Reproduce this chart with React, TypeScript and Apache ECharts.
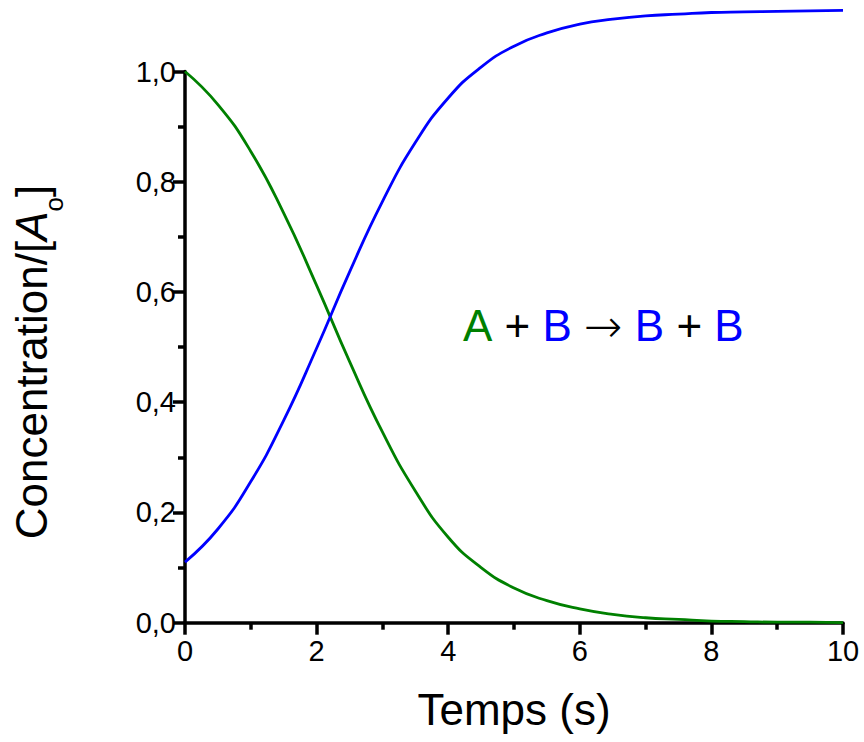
import React, { useEffect, useRef } from "react";
import * as echarts from "echarts";

// Time (s)
const time = [0, 0.5, 1, 1.5, 2, 2.5, 3, 3.5, 4, 4.5, 5, 5.5, 6, 6.5, 7, 7.5, 8, 8.5, 9, 9.5, 10];
// [A]/[A0] (green)
const concA = [1.0, 0.94, 0.855, 0.743, 0.612, 0.474, 0.346, 0.239, 0.155, 0.1, 0.063, 0.04, 0.025, 0.015, 0.009, 0.006, 0.003, 0.002, 0.001, 0.001, 0.0];
// [B]/[A0] (blue)
const concB = [0.11, 0.17, 0.256, 0.367, 0.498, 0.636, 0.764, 0.871, 0.952, 1.008, 1.046, 1.07, 1.086, 1.095, 1.101, 1.104, 1.107, 1.108, 1.109, 1.11, 1.111];

const xTicks = { min: 0, max: 10, interval: 2 };
const yTicks = { min: 0, max: 1.0, interval: 0.2 };

const FONT = '"Liberation Sans", Arial, Helvetica, sans-serif';
const GREEN = "#008000";
const BLUE = "#0000ff";

export default function App() {
  const ref = useRef<HTMLDivElement>(null);

  useEffect(() => {
    if (!ref.current) return;
    const chart = echarts.init(ref.current, undefined, { renderer: "svg" });
    const axisCommon = {
      axisLine: { show: true, onZero: false, lineStyle: { color: "#000", width: 3.5 } },
      axisTick: { show: true, inside: false, length: 12, lineStyle: { color: "#000", width: 3.5 } },
      minorTick: { show: true, splitNumber: 2, length: 7, lineStyle: { color: "#000", width: 3.5 } },
      splitLine: { show: false },
      minorSplitLine: { show: false },
    };
    chart.setOption({
      animation: false,
      backgroundColor: "#fff",
      grid: { left: 185, right: 21, top: 71.5, bottom: 119.3, containLabel: false },
      xAxis: {
        type: "value",
        ...xTicks,
        ...axisCommon,
        axisLabel: { color: "#000", fontSize: 29, fontFamily: FONT, margin: 14 },
      },
      yAxis: {
        type: "value",
        ...yTicks,
        ...axisCommon,
        axisLabel: {
          color: "#000",
          fontSize: 29,
          fontFamily: FONT,
          margin: 9,
          formatter: (v: number) => v.toFixed(1).replace(".", ","),
        },
      },
      series: [
        {
          type: "line",
          data: time.map((t, i) => [t, concA[i]]),
          showSymbol: false,
          smooth: 0.5,
          clip: false,
          lineStyle: { color: GREEN, width: 2.8 },
          z: 3,
        },
        {
          type: "line",
          data: time.map((t, i) => [t, concB[i]]),
          showSymbol: false,
          smooth: 0.5,
          clip: false,
          lineStyle: { color: BLUE, width: 2.8 },
          z: 3,
        },
      ],
      graphic: [
        {
          type: "text",
          x: 463,
          y: 325.6,
          style: {
            text: "{g|A} {k|+} {b|B} {a|→} {b|B} {k|+} {b|B}",
            align: "left",
            verticalAlign: "middle",
            fontFamily: FONT,
            fontSize: 44,
            rich: {
              g: { fill: GREEN, fontSize: 44, fontFamily: FONT, lineHeight: 46 },
              b: { fill: BLUE, fontSize: 44, fontFamily: FONT, lineHeight: 46 },
              k: { fill: "#000", fontSize: 44, fontFamily: FONT, lineHeight: 46 },
              a: { fill: "#000", fontSize: 46, fontFamily: '"DejaVu Sans", sans-serif', fontWeight: 300, lineHeight: 46 },
            },
          },
        },
        {
          type: "text",
          x: 514,
          y: 709,
          style: {
            text: "Temps (s)",
            align: "center",
            verticalAlign: "middle",
            fontFamily: FONT,
            fontSize: 44,
            fill: "#000",
          },
        },
        {
          type: "text",
          x: 31.6,
          y: 362,
          rotation: Math.PI / 2,
          style: {
            text: "{n|Concentration/[}{i|A}{s|o}{n|]}",
            align: "center",
            verticalAlign: "middle",
            fontFamily: FONT,
            fontSize: 44,
            fill: "#000",
            rich: {
              n: { fontSize: 44, fontFamily: FONT, fill: "#000", lineHeight: 70, verticalAlign: "middle" },
              i: { fontSize: 44, fontFamily: FONT, fill: "#000", fontStyle: "italic", lineHeight: 70, verticalAlign: "middle" },
              s: { fontSize: 26, fontFamily: FONT, fill: "#000", lineHeight: 26, verticalAlign: "bottom" },
            },
          },
        },
      ],
    });
    return () => chart.dispose();
  }, []);

  return (
    <div
      ref={ref}
      style={{ position: "absolute", left: 0, top: 0, width: 864, height: 742 }}
    />
  );
}
